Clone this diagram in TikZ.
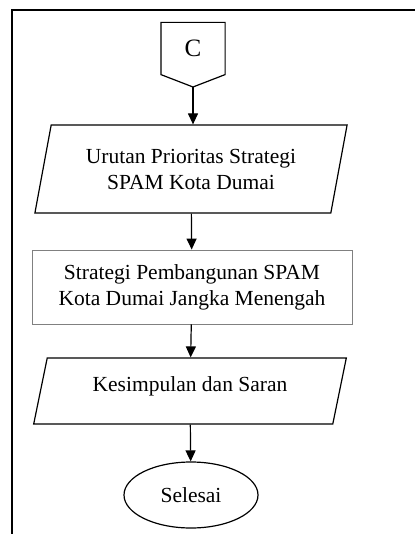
\documentclass[tikz,border=0pt]{standalone}
\usepackage{fontspec}
\setmainfont{Liberation Serif}
\usetikzlibrary{shapes.geometric,arrows.meta}

\begin{document}
\begin{tikzpicture}[
    x=1pt, y=-1pt,
    line width=1.2pt,
    every node/.style={font=\fontsize{21.5}{26}\selectfont, align=center},
    flow/.style={-{Triangle[length=11pt,width=10pt]}},
    iobox/.style={trapezium, draw, trapezium left angle=75, trapezium right angle=105,
        trapezium stretches=true, minimum width=313pt},
    procbox/.style={rectangle, draw=gray, line width=0.9pt, minimum width=320pt, minimum height=74pt},
    endbox/.style={ellipse, draw, minimum width=134pt, minimum height=66pt, inner sep=0pt}
]
    % --- Page and frame ---
    \useasboundingbox (0,0) rectangle (415,534);
    \draw[line width=2pt] (12,534) -- (12,10) -- (415,10);

    % --- Off-page connector C ---
    \node[minimum width=63pt, minimum height=51pt, inner sep=0pt, font=\fontsize{25}{30}\selectfont] (C) at (193,48.5) {C};
    \coordinate (C_tip) at (193,87);
    \draw (C.north west) -- (C.north east) -- (C.south east) -- (C_tip) -- (C.south west) -- cycle;

    % --- Flow nodes ---
    \node[iobox, minimum height=88pt] (urutan) at (191,169) {Urutan Prioritas Strategi\\SPAM Kota Dumai};
    \node[procbox] (strategi) at (192,287) {Strategi Pembangunan SPAM\\Kota Dumai Jangka Menengah};
    \node[iobox, minimum height=66pt, text depth=14pt] (kesimpulan) at (190,391) {Kesimpulan dan Saran};
    \node[endbox] (selesai) at (191,495) {Selesai};

    % --- Arrows ---
    \draw[flow] (C_tip) -- (urutan.north -| C_tip);
    \draw[flow] (urutan) -- (strategi);
    \draw[flow] (strategi) -- (kesimpulan);
    \draw[flow] (kesimpulan) -- (selesai);
\end{tikzpicture}
\end{document}
